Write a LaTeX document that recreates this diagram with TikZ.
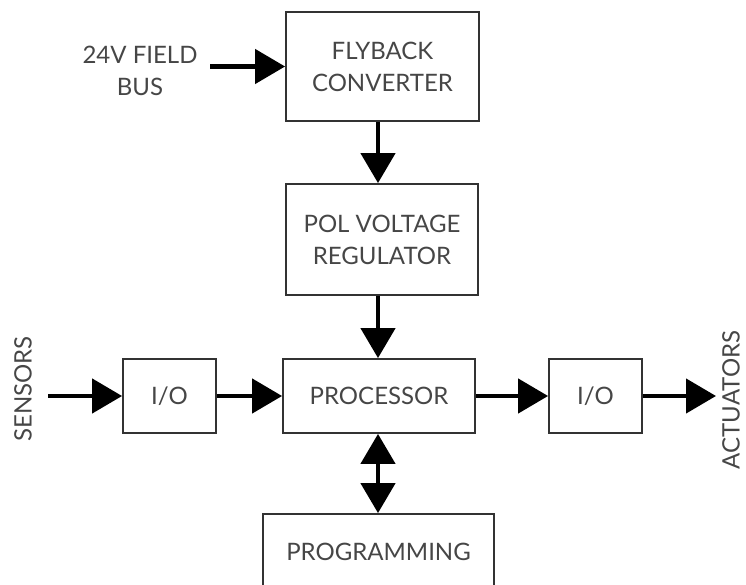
\documentclass[tikz,border=0pt]{standalone}
\usepackage{fontspec}
\setmainfont{Lato}
\usetikzlibrary{arrows.meta}
\definecolor{txtgray}{RGB}{70,70,70}
\definecolor{edgegray}{RGB}{50,50,50}
\begin{document}
\begin{tikzpicture}[
    x=1pt, y=-1pt,
    box/.style={draw=edgegray, line width=1.8pt, rectangle, align=center, text=txtgray, font=\fontsize{24}{32}\selectfont},
    lbl/.style={align=center, text=txtgray, font=\fontsize{24}{32}\selectfont, inner sep=0pt},
    arrow/.style={line width=4.5pt, -{Triangle[length=30pt, width=34pt]}},
    dblarrow/.style={line width=4.5pt, {Triangle[length=30pt, width=34pt]}-{Triangle[length=30pt, width=34pt]}}
]
\useasboundingbox (0,0) rectangle (746,585);
\node[box, minimum width=193pt, minimum height=109pt] (fly) at (382.5,66.5) {FLYBACK\\CONVERTER};
\node[box, minimum width=192pt, minimum height=111pt] (pol) at (382,239.5) {POL VOLTAGE\\REGULATOR};
\node[box, minimum width=192pt, minimum height=74pt] (proc) at (379,396) {PROCESSOR};
\node[box, minimum width=93pt, minimum height=74pt] (ioL) at (169.5,396) {I/O};
\node[box, minimum width=93pt, minimum height=74pt] (ioR) at (595.5,396) {I/O};
\node[box, minimum width=231pt, minimum height=76pt] (prog) at (378.5,552) {PROGRAMMING};
\node[lbl] (bus) at (140,71) {24V FIELD\\BUS};
\node[lbl, rotate=90] (sensors) at (23,389) {SENSORS};
\node[lbl, rotate=90] (actuators) at (731,400) {ACTUATORS};
\coordinate (busin) at (210,66.5);
\coordinate (sensin) at (48,396);
\coordinate (actout) at (716,396);
\draw[arrow] (busin) -- (fly);
\draw[arrow] (fly.south -| 378,0) -- (pol.north -| 378,0);
\draw[arrow] (pol.south -| 378,0) -- (proc.north -| 378,0);
\draw[arrow] (sensin) -- (ioL);
\draw[arrow] (ioL) -- (proc);
\draw[arrow] (proc) -- (ioR);
\draw[arrow] (ioR) -- (actout);
\draw[dblarrow] (proc.south -| 378,0) -- (prog.north -| 378,0);
\end{tikzpicture}
\end{document}
